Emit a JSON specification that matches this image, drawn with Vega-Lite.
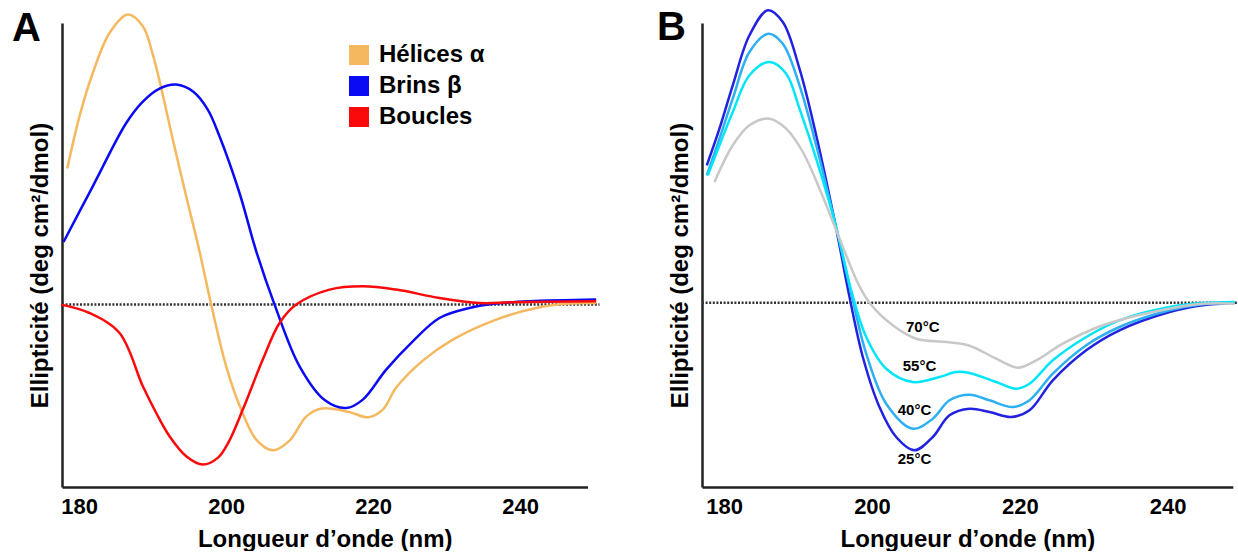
{
  "$schema": "https://vega.github.io/schema/vega-lite/v6.json",
  "background": "white",
  "padding": {"left": 12, "top": 5, "right": 0, "bottom": 0},
  "spacing": 55,
  "config": {
    "font": "Liberation Sans",
    "view": {"stroke": null},
    "axis": {"grid": false, "ticks": false, "domainColor": "#222", "domainWidth": 2.5, "labelFont": "Liberation Sans", "labelFontSize": 22, "labelFontWeight": "bold", "labelColor": "black", "labelPadding": 9, "labelFlush": false, "labelOverlap": false, "titleFont": "Liberation Sans", "titleFontSize": 24, "titleFontWeight": "bold", "titleColor": "black", "titlePadding": 10},
    "title": {"font": "Liberation Sans", "fontSize": 40, "fontWeight": "bold", "color": "black", "anchor": "start", "frame": "group", "baseline": "alphabetic"}
  },
  "datasets": {
    "a": [
      {"series": "Hélices α", "nm": 178.38, "y": 136},
      {"series": "Hélices α", "nm": 180.05, "y": 188.3},
      {"series": "Hélices α", "nm": 181.86, "y": 231.6},
      {"series": "Hélices α", "nm": 184.14, "y": 271.6},
      {"series": "Hélices α", "nm": 186.63, "y": 290},
      {"series": "Hélices α", "nm": 188.67, "y": 278.3},
      {"series": "Hélices α", "nm": 190.03, "y": 250},
      {"series": "Hélices α", "nm": 191.17, "y": 216.6},
      {"series": "Hélices α", "nm": 192.75, "y": 165},
      {"series": "Hélices α", "nm": 194.57, "y": 108.3},
      {"series": "Hélices α", "nm": 196.38, "y": 53.3},
      {"series": "Hélices α", "nm": 197.97, "y": 0},
      {"series": "Hélices α", "nm": 200.01, "y": -61.7},
      {"series": "Hélices α", "nm": 202.05, "y": -105},
      {"series": "Hélices α", "nm": 204.1, "y": -135},
      {"series": "Hélices α", "nm": 206.35, "y": -145.7},
      {"series": "Hélices α", "nm": 208.63, "y": -136},
      {"series": "Hélices α", "nm": 210.9, "y": -112},
      {"series": "Hélices α", "nm": 213, "y": -104},
      {"series": "Hélices α", "nm": 216.79, "y": -107.5},
      {"series": "Hélices α", "nm": 219.28, "y": -112.7},
      {"series": "Hélices α", "nm": 221.32, "y": -105},
      {"series": "Hélices α", "nm": 223.14, "y": -83},
      {"series": "Hélices α", "nm": 226.76, "y": -56},
      {"series": "Hélices α", "nm": 230.84, "y": -35},
      {"series": "Hélices α", "nm": 236.75, "y": -15},
      {"series": "Hélices α", "nm": 242.19, "y": -3.4},
      {"series": "Hélices α", "nm": 246.72, "y": 1},
      {"series": "Hélices α", "nm": 250.35, "y": 1.6},
      {"series": "Brins β", "nm": 177.88, "y": 62.6},
      {"series": "Brins β", "nm": 181.86, "y": 118.3},
      {"series": "Brins β", "nm": 186.41, "y": 181.6},
      {"series": "Brins β", "nm": 188.67, "y": 203},
      {"series": "Brins β", "nm": 190.94, "y": 216},
      {"series": "Brins β", "nm": 193.21, "y": 220},
      {"series": "Brins β", "nm": 195.5, "y": 213},
      {"series": "Brins β", "nm": 197.5, "y": 195},
      {"series": "Brins β", "nm": 199.1, "y": 168.3},
      {"series": "Brins β", "nm": 201.82, "y": 111.6},
      {"series": "Brins β", "nm": 204.1, "y": 53.3},
      {"series": "Brins β", "nm": 206.59, "y": 0},
      {"series": "Brins β", "nm": 209.99, "y": -61.7},
      {"series": "Brins β", "nm": 213.5, "y": -96},
      {"series": "Brins β", "nm": 216.34, "y": -103.4},
      {"series": "Brins β", "nm": 218.6, "y": -95},
      {"series": "Brins β", "nm": 221.78, "y": -65},
      {"series": "Brins β", "nm": 225.4, "y": -36.7},
      {"series": "Brins β", "nm": 229.03, "y": -13.4},
      {"series": "Brins β", "nm": 233.12, "y": -3.4},
      {"series": "Brins β", "nm": 236.75, "y": 1},
      {"series": "Brins β", "nm": 241.28, "y": 3.3},
      {"series": "Brins β", "nm": 250.35, "y": 5},
      {"series": "Boucles", "nm": 177.56, "y": 0},
      {"series": "Boucles", "nm": 181.41, "y": -8.4},
      {"series": "Boucles", "nm": 185.5, "y": -28.4},
      {"series": "Boucles", "nm": 188.67, "y": -81.7},
      {"series": "Boucles", "nm": 190.49, "y": -108.4},
      {"series": "Boucles", "nm": 192.3, "y": -131.7},
      {"series": "Boucles", "nm": 194.57, "y": -151.7},
      {"series": "Boucles", "nm": 196.83, "y": -160},
      {"series": "Boucles", "nm": 198.9, "y": -153},
      {"series": "Boucles", "nm": 200.3, "y": -138},
      {"series": "Boucles", "nm": 202.27, "y": -105},
      {"series": "Boucles", "nm": 204.99, "y": -55},
      {"series": "Boucles", "nm": 207.27, "y": -18.4},
      {"series": "Boucles", "nm": 209.54, "y": 0},
      {"series": "Boucles", "nm": 214.07, "y": 15},
      {"series": "Boucles", "nm": 218.6, "y": 18.3},
      {"series": "Boucles", "nm": 223.14, "y": 15},
      {"series": "Boucles", "nm": 229.03, "y": 6.6},
      {"series": "Boucles", "nm": 234.48, "y": 1.6},
      {"series": "Boucles", "nm": 239.01, "y": 2.3},
      {"series": "Boucles", "nm": 250.35, "y": 3.3}
    ],
    "b": [
      {"series": "25°C", "nm": 177.65, "y": 137.4},
      {"series": "25°C", "nm": 179.36, "y": 174},
      {"series": "25°C", "nm": 181.16, "y": 217.4},
      {"series": "25°C", "nm": 183.42, "y": 267.4},
      {"series": "25°C", "nm": 185.9, "y": 292.4},
      {"series": "25°C", "nm": 187.93, "y": 280.7},
      {"series": "25°C", "nm": 190.19, "y": 234},
      {"series": "25°C", "nm": 192.45, "y": 167.4},
      {"series": "25°C", "nm": 195.16, "y": 74},
      {"series": "25°C", "nm": 196.96, "y": 5.7},
      {"series": "25°C", "nm": 198.76, "y": -54.3},
      {"series": "25°C", "nm": 201.01, "y": -104.3},
      {"series": "25°C", "nm": 203.27, "y": -134.3},
      {"series": "25°C", "nm": 205.75, "y": -147.6},
      {"series": "25°C", "nm": 208.23, "y": -134.3},
      {"series": "25°C", "nm": 210.49, "y": -112.6},
      {"series": "25°C", "nm": 213.19, "y": -106},
      {"series": "25°C", "nm": 215.9, "y": -109.3},
      {"series": "25°C", "nm": 218.84, "y": -114.3},
      {"series": "25°C", "nm": 221.31, "y": -107.6},
      {"series": "25°C", "nm": 224.47, "y": -77.6},
      {"series": "25°C", "nm": 228.99, "y": -47.6},
      {"series": "25°C", "nm": 233.49, "y": -27.6},
      {"series": "25°C", "nm": 240.26, "y": -9.3},
      {"series": "25°C", "nm": 244.76, "y": -2.6},
      {"series": "25°C", "nm": 249.05, "y": -0.3},
      {"series": "40°C", "nm": 177.65, "y": 127.4},
      {"series": "40°C", "nm": 179.36, "y": 164},
      {"series": "40°C", "nm": 181.16, "y": 204},
      {"series": "40°C", "nm": 183.42, "y": 250.7},
      {"series": "40°C", "nm": 185.99, "y": 269},
      {"series": "40°C", "nm": 187.93, "y": 259},
      {"series": "40°C", "nm": 190.19, "y": 217.4},
      {"series": "40°C", "nm": 192.45, "y": 157.4},
      {"series": "40°C", "nm": 195.22, "y": 73},
      {"series": "40°C", "nm": 197.4, "y": 2.4},
      {"series": "40°C", "nm": 199.22, "y": -51},
      {"series": "40°C", "nm": 201.92, "y": -101},
      {"series": "40°C", "nm": 205.52, "y": -126},
      {"series": "40°C", "nm": 208.23, "y": -116},
      {"series": "40°C", "nm": 210.49, "y": -97.6},
      {"series": "40°C", "nm": 213.19, "y": -92},
      {"series": "40°C", "nm": 215.9, "y": -97.6},
      {"series": "40°C", "nm": 219.05, "y": -104.3},
      {"series": "40°C", "nm": 221.31, "y": -97.6},
      {"series": "40°C", "nm": 224.47, "y": -71},
      {"series": "40°C", "nm": 228.99, "y": -42.6},
      {"series": "40°C", "nm": 233.49, "y": -24.3},
      {"series": "40°C", "nm": 240.26, "y": -7.6},
      {"series": "40°C", "nm": 244.76, "y": -1.6},
      {"series": "40°C", "nm": 249.05, "y": -0.3},
      {"series": "55°C", "nm": 177.78, "y": 127.4},
      {"series": "55°C", "nm": 179.36, "y": 157.4},
      {"series": "55°C", "nm": 181.16, "y": 190.7},
      {"series": "55°C", "nm": 183.42, "y": 227.4},
      {"series": "55°C", "nm": 186.13, "y": 240.7},
      {"series": "55°C", "nm": 188.39, "y": 229},
      {"series": "55°C", "nm": 190.19, "y": 194},
      {"series": "55°C", "nm": 192.45, "y": 144},
      {"series": "55°C", "nm": 195.28, "y": 72},
      {"series": "55°C", "nm": 197.19, "y": 12.4},
      {"series": "55°C", "nm": 199.22, "y": -34.3},
      {"series": "55°C", "nm": 201.92, "y": -66},
      {"series": "55°C", "nm": 205.52, "y": -79.3},
      {"series": "55°C", "nm": 209.13, "y": -74.3},
      {"series": "55°C", "nm": 211.39, "y": -69.3},
      {"series": "55°C", "nm": 213.19, "y": -70.3},
      {"series": "55°C", "nm": 216.81, "y": -79.3},
      {"series": "55°C", "nm": 219.51, "y": -86},
      {"series": "55°C", "nm": 221.31, "y": -81},
      {"series": "55°C", "nm": 224.47, "y": -57.6},
      {"series": "55°C", "nm": 228.99, "y": -34.3},
      {"series": "55°C", "nm": 233.49, "y": -17.6},
      {"series": "55°C", "nm": 240.26, "y": -4.3},
      {"series": "55°C", "nm": 244.76, "y": -0.3},
      {"series": "55°C", "nm": 249.05, "y": 0.7},
      {"series": "70°C", "nm": 178.69, "y": 120.7},
      {"series": "70°C", "nm": 181.16, "y": 157.4},
      {"series": "70°C", "nm": 183.42, "y": 177.4},
      {"series": "70°C", "nm": 186.13, "y": 184},
      {"series": "70°C", "nm": 188.39, "y": 174},
      {"series": "70°C", "nm": 190.64, "y": 150.7},
      {"series": "70°C", "nm": 192.9, "y": 114},
      {"series": "70°C", "nm": 195.3, "y": 70},
      {"series": "70°C", "nm": 196.8, "y": 42},
      {"series": "70°C", "nm": 198.2, "y": 18},
      {"series": "70°C", "nm": 199.66, "y": 0},
      {"series": "70°C", "nm": 202.81, "y": -22.6},
      {"series": "70°C", "nm": 205.98, "y": -36},
      {"series": "70°C", "nm": 210.04, "y": -39.3},
      {"series": "70°C", "nm": 213.19, "y": -43},
      {"series": "70°C", "nm": 216.81, "y": -56},
      {"series": "70°C", "nm": 219.73, "y": -65},
      {"series": "70°C", "nm": 222.22, "y": -57.6},
      {"series": "70°C", "nm": 225.82, "y": -41},
      {"series": "70°C", "nm": 231.23, "y": -22.6},
      {"series": "70°C", "nm": 238, "y": -9.3},
      {"series": "70°C", "nm": 244.76, "y": -1},
      {"series": "70°C", "nm": 249.05, "y": -1}
    ],
    "zeroA": [{"nm": 177.67, "nm2": 250.8, "y": 0}],
    "zeroB": [{"nm": 177.0, "nm2": 249.9, "y": 0}],
    "labelsB": [
      {"label": "70°C", "nm": 206.87, "y": -24.3},
      {"label": "55°C", "nm": 206.43, "y": -63.6},
      {"label": "40°C", "nm": 205.75, "y": -107},
      {"label": "25°C", "nm": 205.75, "y": -156}
    ]
  },
  "hconcat": [
    {
      "width": 525.5,
      "height": 464,
      "title": {"text": "A", "offset": -39, "dx": -50},
      "encoding": {
        "x": {"field": "nm", "type": "quantitative", "scale": {"domain": [177.67, 249.17], "nice": false, "zero": false}, "axis": {"values": [180, 200, 220, 240], "title": "Longueur d’onde (nm)"}},
        "y": {"field": "y", "type": "quantitative", "scale": {"domain": [-182.4, 281.6], "nice": false, "zero": false}, "axis": {"labels": false, "title": "Ellipticité (deg cm²/dmol)", "titleY": 242}}
      },
      "layer": [
        {
          "data": {"name": "zeroA"},
          "mark": {"type": "rule", "strokeDash": [2, 1.6], "strokeWidth": 2.5, "color": "#333"},
          "encoding": {"x2": {"field": "nm2"}}
        },
        {
          "data": {"name": "a"},
          "mark": {"type": "line", "interpolate": "catmull-rom", "strokeWidth": 2.5},
          "encoding": {
            "color": {"field": "series", "type": "nominal", "sort": null,
              "scale": {"domain": ["Hélices α", "Brins β", "Boucles"], "range": ["#F5B85F", "#0A0AF5", "#FA0A0A"]},
              "legend": {"orient": "none", "legendX": 285, "legendY": 20, "title": null, "symbolType": "square", "symbolSize": 400, "symbolStrokeWidth": 0, "symbolOpacity": 1, "labelFontSize": 24, "labelFontWeight": "bold", "labelFont": "Liberation Sans", "labelColor": "black", "rowPadding": 7, "labelOffset": 8, "padding": 0,
                "encode": {"symbols": {"update": {"fill": {"signal": "datum.value === 'Hélices α' ? '#F5B85F' : datum.value === 'Brins β' ? '#0A0AF5' : '#FA0A0A'"}, "fillOpacity": {"value": 1}, "strokeWidth": {"value": 0}}}}
              }
            }
          }
        }
      ]
    },
    {
      "width": 530.8,
      "height": 464,
      "title": {"text": "B", "offset": -43, "dx": -45},
      "encoding": {
        "x": {"field": "nm", "type": "quantitative", "scale": {"domain": [177.0, 248.82], "nice": false, "zero": false}, "axis": {"values": [180, 200, 220, 240], "title": "Longueur d’onde (nm)"}},
        "y": {"field": "y", "type": "quantitative", "scale": {"domain": [-184.3, 279.7], "nice": false, "zero": false}, "axis": {"labels": false, "title": "Ellipticité (deg cm²/dmol)", "titleY": 242}}
      },
      "layer": [
        {
          "data": {"name": "zeroB"},
          "mark": {"type": "rule", "strokeDash": [2, 1.6], "strokeWidth": 2.5, "color": "#333"},
          "encoding": {"x2": {"field": "nm2"}}
        },
        {
          "data": {"name": "b"},
          "mark": {"type": "line", "interpolate": "catmull-rom", "strokeWidth": 2.5},
          "encoding": {
            "color": {"field": "series", "type": "nominal", "sort": null,
              "scale": {"domain": ["70°C", "55°C", "40°C", "25°C"], "range": ["#C8C8C8", "#00E6F8", "#2CB0F2", "#2222E0"]},
              "legend": null
            }
          }
        },
        {
          "data": {"name": "labelsB"},
          "mark": {"type": "text", "font": "Liberation Sans", "fontSize": 15, "fontWeight": "bold", "color": "black", "align": "center", "baseline": "middle"},
          "encoding": {"text": {"field": "label"}}
        }
      ]
    }
  ],
  "resolve": {"scale": {"color": "independent", "x": "independent", "y": "independent"}}
}
